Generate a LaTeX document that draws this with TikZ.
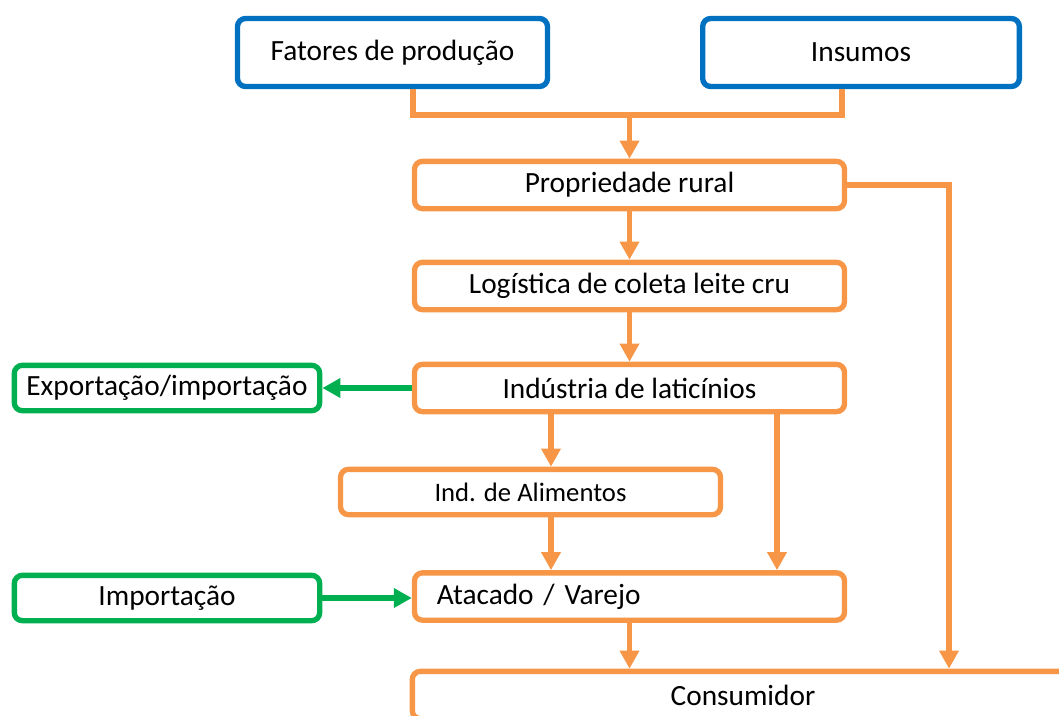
\documentclass[tikz,border=0pt]{standalone}
\usepackage{fontspec}
\setmainfont{Carlito}
\usepackage{xcolor}
\usepackage{tikz}
\usetikzlibrary{arrows.meta, calc}
\definecolor{boxBlue}{HTML}{0070C0}
\definecolor{boxOrange}{HTML}{F79646}
\definecolor{boxGreen}{HTML}{00B050}

\begin{document}
\begin{tikzpicture}[x=0.75pt, y=-0.75pt,
    every node/.style={draw, line width=4pt, rounded corners=6pt, fill=white, inner sep=0pt,
      font=\fontsize{22}{26}\selectfont},
    bluebox/.style={draw=boxBlue, minimum width=232.5pt, minimum height=51pt},
    orbox/.style={draw=boxOrange, minimum width=322.5pt, minimum height=35.5pt},
    grbox/.style={draw=boxGreen, minimum width=229pt, minimum height=34pt},
    conn/.style={boxOrange, line width=4pt},
    arr/.style={conn, -{Triangle[width=14pt, length=13.5pt]}},
    garr/.style={boxGreen, line width=4pt, -{Triangle[width=14pt, length=13.5pt]}}]
  \useasboundingbox (0,0) rectangle (1059,715);

  \coordinate (j1) at (413, 115);
  \coordinate (j2) at (842, 115);
  \coordinate (xa) at (551, 0);
  \coordinate (xb) at (777, 0);
  \coordinate (xc) at (949, 0);

  \node[bluebox] (fat) at (392.5, 52.5) {Fatores de produção};
  \node[bluebox, minimum width=237.5pt] (ins) at (861, 52.5) {Insumos};
  \node[orbox] (prop) at (629.5, 185) {Propriedade rural};
  \node[orbox] (log) at (629.5, 286) {Logística de coleta leite cru};
  \node[orbox] (ind) at (629.5, 388) {Indústria de laticínios};
  \node[orbox, minimum width=285pt, minimum height=34pt, font=\fontsize{20}{24}\selectfont] (alim) at (530.5, 492) {Ind. de Alimentos};
  \node[orbox, inner xsep=16.5pt, text width=289pt, align=left] (atac) at (629.5, 596.5) {Atacado / Varejo};
  \node[orbox, minimum width=496pt] (cons) at (743, 695) {Consumidor};
  \node[grbox] (exp) at (167, 388) {Exportação/importação};
  \node[grbox] (imp) at (167, 598) {Importação};

  % fatores + insumos -> propriedade
  \draw[conn] (fat.south -| j1) -- (j1) -- (j2) -- (ins.south -| j2);
  \draw[arr] (j1 -| prop) -- (prop.north);
  \draw[arr] (prop.south) -- (log.north);
  \draw[arr] (log.south) -- (ind.north);
  \draw[garr] (ind.west) -- (exp.east);
  \draw[arr] (ind.south -| xa) -- (alim.north -| xa);
  \draw[arr] (alim.south -| xa) -- (atac.north -| xa);
  \draw[arr] (ind.south -| xb) -- (atac.north -| xb);
  \draw[garr] (imp.east) -- (imp.east -| atac.west);
  \draw[arr] (atac.south) -- (atac.south |- cons.north);
  % propriedade direto ao consumidor
  \draw[arr] (prop.east) -- (prop.east -| xc) -- (xc |- cons.north);
\end{tikzpicture}
\end{document}
